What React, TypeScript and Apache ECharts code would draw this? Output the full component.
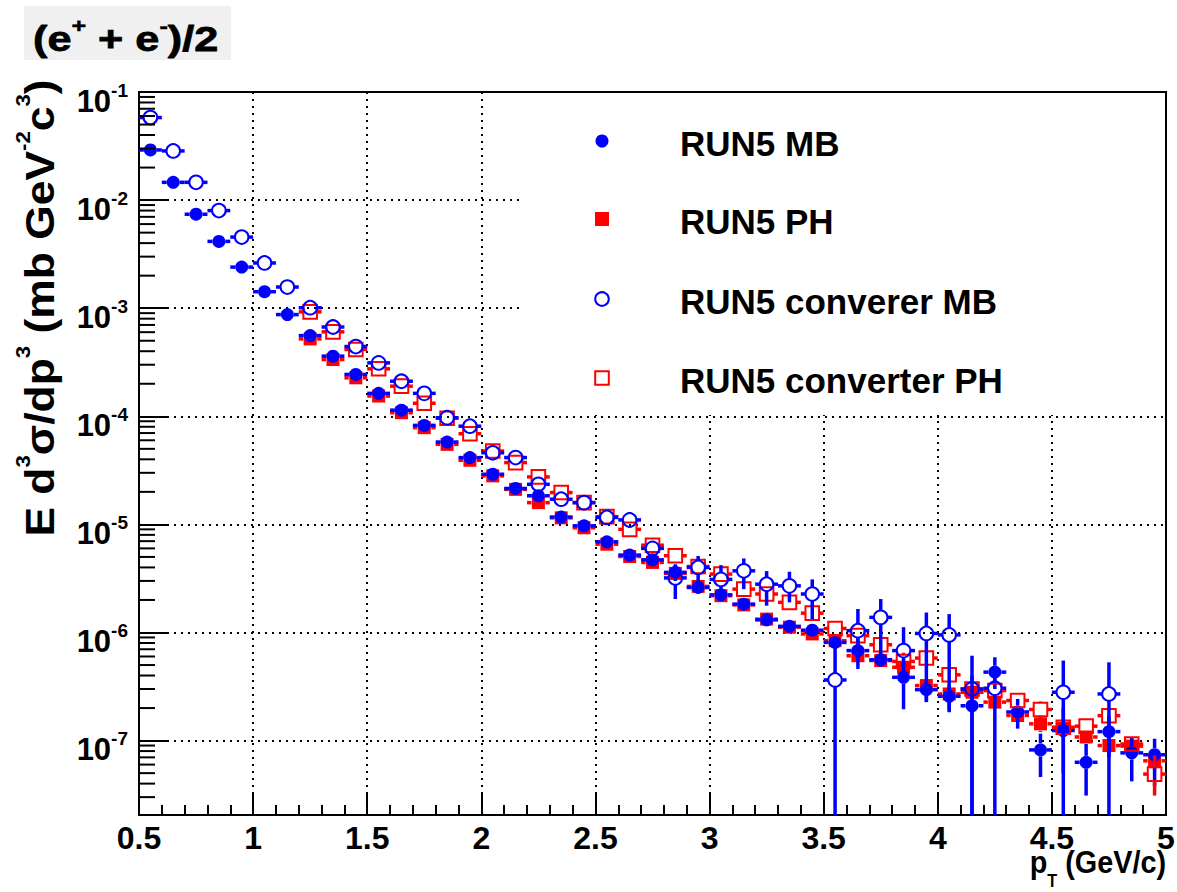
import React, { useEffect, useRef } from "react";
import * as echarts from "echarts";

// pT bin centres (GeV/c)
const PT = [0.55, 0.65, 0.75, 0.85, 0.95, 1.05, 1.15, 1.25, 1.35, 1.45, 1.55, 1.65, 1.75, 1.85, 1.95, 2.05, 2.15, 2.25, 2.35, 2.45, 2.55, 2.65, 2.75, 2.85, 2.95, 3.05, 3.15, 3.25, 3.35, 3.45, 3.55, 3.65, 3.75, 3.85, 3.95, 4.05, 4.15, 4.25, 4.35, 4.45, 4.55, 4.65, 4.75, 4.85, 4.95];

// RUN5 MB (filled blue circles)
const MB = [0.0291, 0.0146, 0.0074, 0.00415, 0.0024, 0.00142, 8.73e-4, 5.58e-4, 3.6e-4, 2.44e-4, 1.63e-4, 1.14e-4, 8.24e-5, 5.78e-5, 4.15e-5, 2.91e-5, 2.15e-5, 1.84e-5, 1.17e-5, 9.7e-6, 6.9e-6, 5.2e-6, 4.7e-6, 3.6e-6, 2.61e-6, 2.23e-6, 1.83e-6, 1.31e-6, 1.14e-6, 1.05e-6, 8.1e-7, 6.8e-7, 5.6e-7, 3.85e-7, 2.96e-7, 2.57e-7, 2.1e-7, 4.3e-7, 1.84e-7, 8.2e-8, 1.24e-7, 6.3e-8, 1.21e-7, 7.7e-8, 7.4e-8];
// [pT, low, high]
const MB_ERR = [[2.85, 3.0e-6, 4.2e-6], [3.65, 4.6e-7, 8.7e-7], [3.75, 4.8e-7, 6.5e-7], [3.85, 1.95e-7, 5.3e-7], [3.95, 2.27e-7, 3.6e-7], [4.05, 1.9e-7, 3.3e-7], [4.15, 1e-10, 4.0e-7], [4.25, 3.0e-7, 5.9e-7], [4.35, 1.29e-7, 2.43e-7], [4.45, 4.6e-8, 1.16e-7], [4.55, 5e-8, 2.0e-7], [4.65, 3.1e-8, 9.3e-8], [4.75, 7e-8, 1.7e-7], [4.85, 4.2e-8, 1.07e-7], [4.95, 3.8e-8, 1.04e-7]];

// RUN5 PH (filled red squares)
const PH = [null, null, null, null, null, null, null, 5.2e-4, 3.35e-4, 2.27e-4, 1.54e-4, 1.08e-4, 7.85e-5, 5.5e-5, 3.92e-5, 2.81e-5, 2.11e-5, 1.59e-5, 1.15e-5, 9.3e-6, 6.56e-6, 5.05e-6, 4.45e-6, 3.52e-6, 2.67e-6, 2.19e-6, 1.8e-6, 1.33e-6, 1.12e-6, 9.7e-7, 8.4e-7, 6.1e-7, 5.5e-7, 4.77e-7, 3.23e-7, 2.7e-7, 2.8e-7, 2.27e-7, 1.71e-7, 1.43e-7, 1.3e-7, 1.08e-7, 9.0e-8, 8.9e-8, 6.5e-8];
const PH_ERR = [[3.85, 4.0e-7, 5.6e-7], [4.45, 1.2e-7, 1.7e-7], [4.75, 7.5e-8, 1.08e-7], [4.85, 7.4e-8, 1.06e-7], [4.95, 5.3e-8, 8.0e-8]];

// RUN5 converer MB (open blue circles)
const CONV_MB = [0.058, 0.0285, 0.0146, 0.008, 0.00455, 0.00262, 0.00157, 0.00101, 6.7e-4, 4.42e-4, 3.12e-4, 2.11e-4, 1.63e-4, 9.7e-5, 8.1e-5, 4.6e-5, 4.15e-5, 2.35e-5, 1.71e-5, 1.59e-5, 1.16e-5, 1.1e-5, 6.0e-6, 3.2e-6, 4.0e-6, 3.1e-6, 3.72e-6, 2.8e-6, 2.7e-6, 2.27e-6, 3.64e-7, 1.04e-6, 1.38e-6, 6.8e-7, 9.8e-7, 9.5e-7, 3.0e-7, 3.05e-7, null, null, 2.8e-7, null, 2.7e-7, null, null];
const CONV_MB_ERR = [[2.65, 9.3e-6, 1.3e-5], [2.75, 5.1e-6, 7.0e-6], [2.85, 2.04e-6, 4.28e-6], [2.95, 2.9e-6, 5.1e-6], [3.05, 2.4e-6, 4.2e-6], [3.15, 2.52e-6, 4.84e-6], [3.25, 1.77e-6, 3.7e-6], [3.35, 1.9e-6, 3.65e-6], [3.45, 1.33e-6, 3.1e-6], [3.55, 1e-10, 8.5e-7], [3.65, 6.5e-7, 1.65e-6], [3.75, 5.7e-7, 2.04e-6], [3.85, 4.0e-7, 1.12e-6], [3.95, 2.3e-7, 1.53e-6], [4.05, 1.83e-7, 1.48e-6], [4.15, 1e-10, 6.1e-7], [4.25, 1e-10, 4.3e-7], [4.55, 1e-10, 5.5e-7], [4.75, 1e-10, 5.3e-7]];

// RUN5 converter PH (open red squares)
const CONV_PH = [null, null, null, null, null, null, null, 9.25e-4, 6.04e-4, 4.15e-4, 2.75e-4, 1.9e-4, 1.32e-4, 9.6e-5, 6.9e-5, 4.77e-5, 3.73e-5, 2.75e-5, 1.97e-5, 1.59e-5, 1.18e-5, 9.0e-6, 6.42e-6, 5.13e-6, 4.08e-6, 3.47e-6, 2.52e-6, 2.27e-6, 1.9e-6, 1.51e-6, 1.09e-6, 9.35e-7, 7.7e-7, 5.4e-7, 5.8e-7, 4.06e-7, 3.0e-7, 2.9e-7, 2.35e-7, 1.94e-7, 1.33e-7, 1.36e-7, 1.7e-7, 9.3e-8, 4.9e-8];
const CONV_PH_ERR = [[3.85, 4.5e-7, 6.5e-7], [4.45, 1.6e-7, 2.3e-7], [4.95, 3.1e-8, 7.3e-8]];

const X_MIN = 0.5;
const X_MAX = 5;
const Y_MIN = 2.05e-8;
const Y_MAX = 0.1;
const MINOR_MULT = [2, 3, 4, 5, 6, 7, 8, 9];
const DECADES = [1e-8, 1e-7, 1e-6, 1e-5, 1e-4, 1e-3, 1e-2];
const HALF_BIN = 0.05;

const BLUE = "#0000ff";
const RED = "#ff0000";
const FONT = "Liberation Sans, Arial, Helvetica, sans-serif";

type Kind = "fcircle" | "fsquare" | "ocircle" | "osquare";

function rows(vals: (number | null)[], errs: number[][]) {
  const out: number[][] = [];
  PT.forEach((x, i) => {
    const v = vals[i];
    if (v == null) return;
    const e = errs.find((r) => Math.abs(r[0] - x) < 1e-6);
    out.push([x, v, e ? e[1] : NaN, e ? e[2] : NaN]);
  });
  return out;
}

function makeSeries(name: string, data: number[][], kind: Kind, color: string) {
  const R = kind === "fcircle" ? 6.5 : 7;
  return {
    type: "custom",
    name,
    clip: true,
    data,
    encode: { x: 0, y: 1 },
    renderItem: (params: any, api: any) => {
      const x = api.value(0);
      const y = api.value(1);
      const lo = api.value(2);
      const hi = api.value(3);
      const c = api.coord([x, y]);
      const l = api.coord([x - HALF_BIN, y]);
      const r = api.coord([x + HALF_BIN, y]);
      const ls = { stroke: color, lineWidth: 3.5 };
      const ch: any[] = [];
      ch.push({ type: "line", shape: { x1: l[0], y1: c[1], x2: c[0] - R, y2: c[1] }, style: ls });
      ch.push({ type: "line", shape: { x1: c[0] + R, y1: c[1], x2: r[0], y2: c[1] }, style: ls });
      if (!isNaN(hi)) {
        const h = api.coord([x, hi]);
        if (h[1] < c[1] - R) ch.push({ type: "line", shape: { x1: c[0], y1: h[1], x2: c[0], y2: c[1] - R }, style: ls });
      }
      if (!isNaN(lo)) {
        const w = api.coord([x, lo]);
        if (w[1] > c[1] + R) ch.push({ type: "line", shape: { x1: c[0], y1: c[1] + R, x2: c[0], y2: w[1] }, style: ls });
      }
      if (kind === "fcircle") ch.push({ type: "circle", shape: { cx: c[0], cy: c[1], r: 6.5 }, style: { fill: color } });
      if (kind === "ocircle") ch.push({ type: "circle", shape: { cx: c[0], cy: c[1], r: 6.8 }, style: { fill: "none", stroke: color, lineWidth: 2 } });
      if (kind === "fsquare") ch.push({ type: "rect", shape: { x: c[0] - 6.5, y: c[1] - 6.5, width: 13, height: 13 }, style: { fill: color } });
      if (kind === "osquare") ch.push({ type: "rect", shape: { x: c[0] - 6.8, y: c[1] - 6.8, width: 13.6, height: 13.6 }, style: { fill: "none", stroke: color, lineWidth: 2 } });
      return { type: "group", children: ch };
    },
  };
}

export default function App() {
  const ref = useRef<HTMLDivElement>(null);
  useEffect(() => {
    document.body.style.margin = "0";
    const chart = echarts.init(ref.current!, null, { renderer: "svg" });

    const minorTicks: number[][] = [];
    DECADES.forEach((d) =>
      MINOR_MULT.forEach((m) => {
        const v = d * m;
        if (v > Y_MIN && v < Y_MAX) minorTicks.push([X_MIN, v]);
      })
    );

    const legendItems = [
      { label: "RUN5 MB", kind: "fcircle", color: BLUE, y: 141 },
      { label: "RUN5 PH", kind: "fsquare", color: RED, y: 219 },
      { label: "RUN5 converer MB", kind: "ocircle", color: BLUE, y: 299 },
      { label: "RUN5 converter PH", kind: "osquare", color: RED, y: 378 },
    ];
    const legendEls: any[] = [
      { type: "rect", z: 50, shape: { x: 522, y: 93, width: 643, height: 322 }, style: { fill: "#fff" } },
    ];
    legendItems.forEach((it) => {
      const mx = 602;
      if (it.kind === "fcircle") legendEls.push({ type: "circle", z: 51, shape: { cx: mx, cy: it.y, r: 6.5 }, style: { fill: it.color } });
      if (it.kind === "ocircle") legendEls.push({ type: "circle", z: 51, shape: { cx: mx, cy: it.y, r: 6.8 }, style: { fill: "none", stroke: it.color, lineWidth: 2 } });
      if (it.kind === "fsquare") legendEls.push({ type: "rect", z: 51, shape: { x: mx - 7, y: it.y - 7, width: 14, height: 14 }, style: { fill: it.color } });
      if (it.kind === "osquare") legendEls.push({ type: "rect", z: 51, shape: { x: mx - 6.8, y: it.y - 6.8, width: 13.6, height: 13.6 }, style: { fill: "none", stroke: it.color, lineWidth: 2 } });
      legendEls.push({
        type: "text", z: 51, x: 680, y: it.y + 2,
        style: { text: it.label, font: `bold 35px ${FONT}`, fill: "#000", align: "left", verticalAlign: "middle" },
      });
    });

    const option: any = {
      animation: false,
      backgroundColor: "#fff",
      grid: { left: 139, right: 11, top: 92, bottom: 77, show: true, borderColor: "#000", borderWidth: 2, containLabel: false, outerBoundsMode: "none" },
      xAxis: {
        type: "value", min: X_MIN, max: X_MAX, interval: 0.5,
        axisLine: { show: true, onZero: false, lineStyle: { color: "#000", width: 2 } },
        axisTick: { show: true, inside: true, length: 22, lineStyle: { color: "#000", width: 2 } },
        minorTick: { show: true, splitNumber: 5, length: 10, lineStyle: { color: "#000", width: 2 } },
        axisLabel: { color: "#000", fontFamily: FONT, fontWeight: "bold", fontSize: 32, lineHeight: 32, margin: 7 },
        splitLine: { show: true, lineStyle: { color: "#000", width: 2, type: [2, 5] } },
      },
      yAxis: {
        type: "log", logBase: 10, min: Y_MIN, max: Y_MAX, splitNumber: 7,
        axisLine: { show: true, lineStyle: { color: "#000", width: 2 } },
        axisTick: { show: true, inside: true, length: 29, lineStyle: { color: "#000", width: 2 } },
        axisLabel: {
          showMinLabel: false,
          margin: 11,
          padding: [18, 0, 0, 0],
          formatter: (v: number) => `{b|10}{s|${Math.round(Math.log10(v))}}`,
          rich: {
            b: { fontFamily: FONT, fontWeight: "bold", fontSize: 31, lineHeight: 31, color: "#000" },
            s: { fontFamily: FONT, fontWeight: "bold", fontSize: 19, lineHeight: 19, padding: [0, 0, 22, 0], color: "#000" },
          },
        },
        splitLine: { show: true, lineStyle: { color: "#000", width: 2, type: [2, 5] } },
      },
      series: [
        {
          type: "custom",
          name: "minorTicks",
          data: minorTicks,
          encode: { x: 0, y: 1 },
          z: 3,
          renderItem: (params: any, api: any) => {
            const p = api.coord([api.value(0), api.value(1)]);
            return { type: "line", shape: { x1: p[0], y1: p[1], x2: p[0] + 16, y2: p[1] }, style: { stroke: "#000", lineWidth: 2 } };
          },
        },
        makeSeries("RUN5 PH", rows(PH, PH_ERR), "fsquare", RED),
        makeSeries("RUN5 MB", rows(MB, MB_ERR), "fcircle", BLUE),
        makeSeries("RUN5 converter PH", rows(CONV_PH, CONV_PH_ERR), "osquare", RED),
        makeSeries("RUN5 converer MB", rows(CONV_MB, CONV_MB_ERR), "ocircle", BLUE),
      ],
      graphic: [
        { type: "rect", shape: { x: 24, y: 6, width: 207, height: 54 }, style: { fill: "#f0f0f0" } },
        {
          type: "text", x: 33, y: 38, scaleX: 1.2,
          style: {
            text: "{m|(e}{s|+}{m| + e}{s|-}{m|)/2}",
            align: "left", verticalAlign: "middle",
            rich: {
              m: { fontFamily: FONT, fontWeight: "bold", fontSize: 36, lineHeight: 36, fill: "#000", stroke: "#000", lineWidth: 0.8 },
              s: { fontFamily: FONT, fontWeight: "bold", fontSize: 21, lineHeight: 21, padding: [0, 0, 25, 0], fill: "#000", stroke: "#000", lineWidth: 0.5 },
            },
          },
        },
        {
          type: "text", x: 40, y: 308, rotation: Math.PI / 2, scaleX: 1.11,
          style: {
            text: "{m|E d}{s|3}{m|σ/dp}{s|3}{m| (mb GeV}{s|-2}{m|c}{s|3}{m|)}",
            align: "center", verticalAlign: "middle",
            rich: {
              m: { fontFamily: FONT, fontWeight: "bold", fontSize: 40, lineHeight: 40, fill: "#000" },
              s: { fontFamily: FONT, fontWeight: "bold", fontSize: 20, lineHeight: 20, padding: [0, 0, 34, 0], fill: "#000" },
            },
          },
        },
        {
          type: "text", x: 1166, y: 861, scaleX: 0.9,
          style: {
            text: "{m|p}{t|T}{m| (GeV/c)}",
            align: "right", verticalAlign: "middle",
            rich: {
              m: { fontFamily: FONT, fontWeight: "bold", fontSize: 32, lineHeight: 32, fill: "#000" },
              t: { fontFamily: FONT, fontWeight: "bold", fontSize: 18, lineHeight: 18, padding: [41, 0, 0, 0], fill: "#000" },
            },
          },
        },
        ...legendEls,
      ],
    };
    chart.setOption(option);
    return () => chart.dispose();
  }, []);
  return <div ref={ref} style={{ width: 1177, height: 892 }} />;
}
